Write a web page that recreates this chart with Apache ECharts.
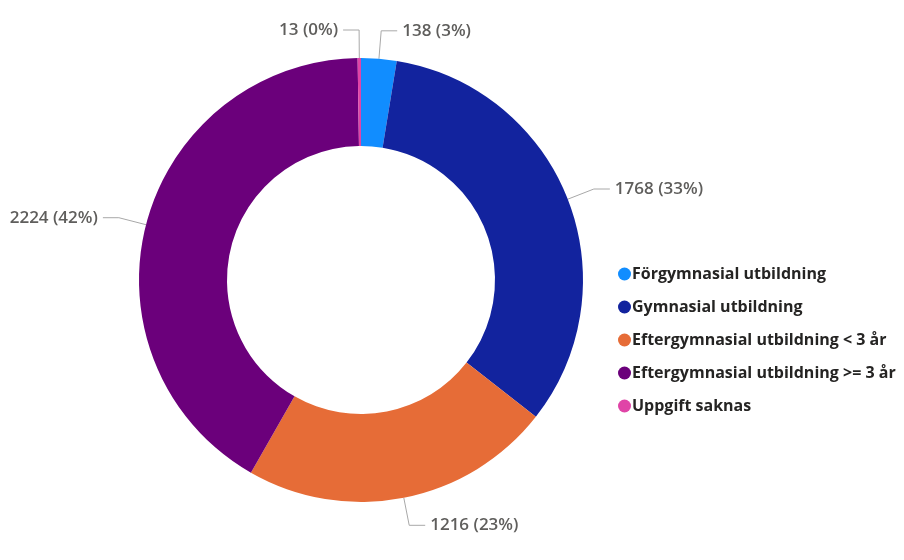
<!DOCTYPE html>
<html>
<head>
<meta charset="utf-8">
<script src="https://cdn.jsdelivr.net/npm/echarts@6/dist/echarts.min.js"></script>
<style>html,body{margin:0;padding:0;background:#fff}#c{width:904px;height:560px}</style>
</head>
<body>
<div id="c"></div>
<script>
var categories = ["Förgymnasial utbildning", "Gymnasial utbildning", "Eftergymnasial utbildning < 3 år", "Eftergymnasial utbildning >= 3 år", "Uppgift saknas"];
var values = [138, 1768, 1216, 2224, 13];
var colors = ["#118DFF", "#12239E", "#E66C37", "#6B007B", "#E044A7"];

var total = values.reduce(function(a,b){return a+b;},0);
var chart = echarts.init(document.getElementById('c'));
chart.setOption({
  animation: false,
  color: colors,
  legend: {
    orient: 'vertical',
    left: 613,
    top: 261,
    icon: 'circle',
    itemWidth: 13,
    itemHeight: 13,
    itemGap: 17,
    textStyle: {fontFamily: 'Open Sans', fontWeight: 'bold', fontSize: 16, color: '#252423', padding: [0,0,0,-4]},
    data: categories
  },
  series: [{
    type: 'pie',
    center: [361, 280],
    radius: [134, 222],
    startAngle: 90,
    clockwise: true,
    avoidLabelOverlap: true,
    data: categories.map(function(n,i){return {name:n, value:values[i]};}),
    label: {
      show: true,
      position: 'outside',
      overflow: 'none',
      fontFamily: 'Open Sans',
      fontWeight: 600,
      fontSize: 17,
      color: '#5F5E5C',
      formatter: function(p){ return p.value + ' (' + Math.round(p.value/total*100) + '%)'; }
    },
    labelLine: {show: true, length: 28, length2: 16, lineStyle: {color: '#A8A8A8', width: 1}},
    itemStyle: {borderWidth: 0}
  }]
});
</script>
</body>
</html>
